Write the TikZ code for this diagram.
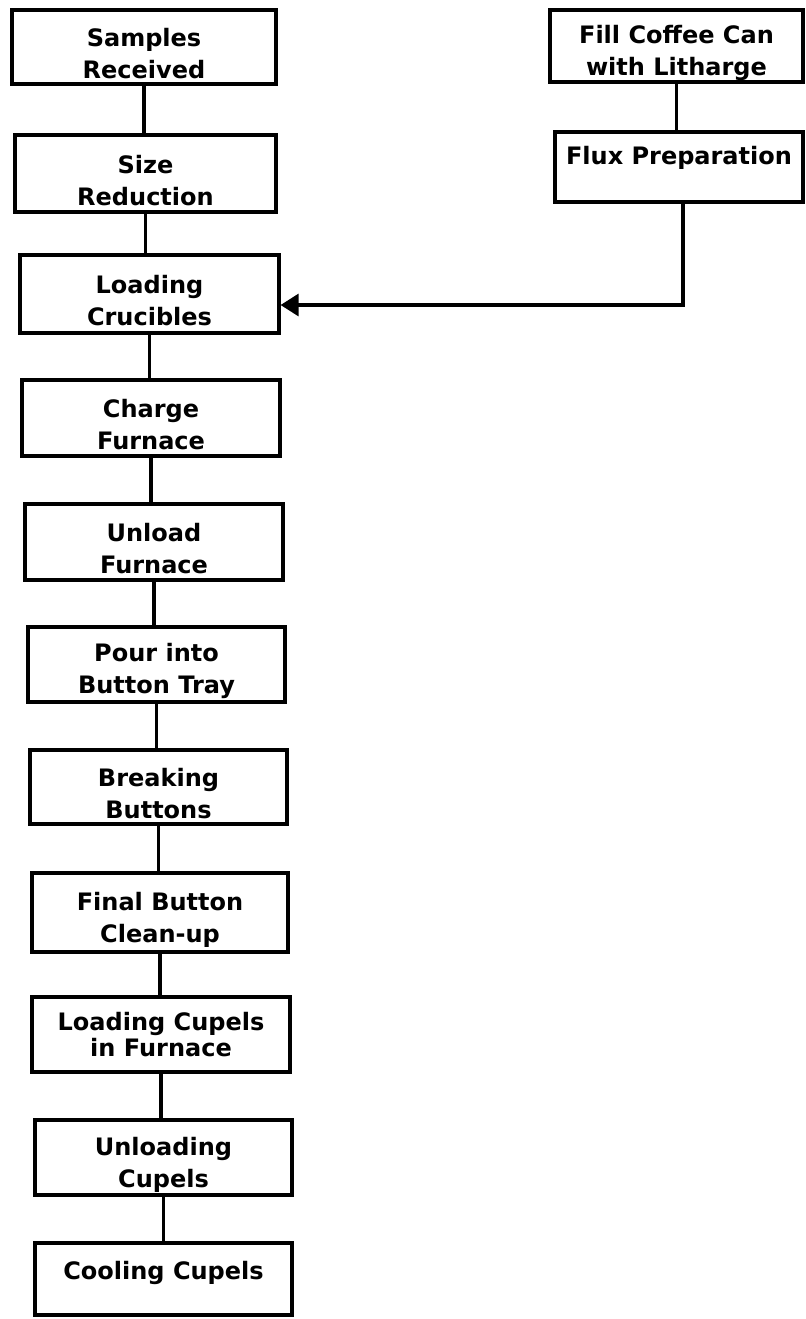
\documentclass[tikz,border=0pt]{standalone}
\usepackage{fontspec}
\setmainfont{DejaVu Sans}
\usetikzlibrary{arrows.meta}
\newcommand\boxgap{\rule{0pt}{16pt}}
\begin{document}
\begin{tikzpicture}[x=0.5pt,y=-0.5pt,
  box/.style={draw,line width=1.6pt,inner sep=0pt,align=center,font=\bfseries\fontsize{12}{16}\selectfont},
  link/.style={line width=1.6pt},
  flow/.style={line width=1.6pt,-{Triangle[length=9pt,width=11pt]}}]
  \useasboundingbox (0,0) rectangle (805,1319);
  \node[box,minimum width=132pt,minimum height=37pt] (samples) at (144,47) {\boxgap Samples\\Received};
  \node[box,minimum width=130.5pt,minimum height=38.5pt] (sizered) at (145.5,173.5) {\boxgap Size\\Reduction};
  \node[box,minimum width=129.5pt,minimum height=39pt] (crucibles) at (149.5,294) {\boxgap Loading\\Crucibles};
  \node[box,minimum width=129pt,minimum height=38pt] (charge) at (151,418) {\boxgap Charge\\Furnace};
  \node[box,minimum width=129pt,minimum height=38pt] (unload) at (154,542) {\boxgap Unload\\Furnace};
  \node[box,minimum width=128.5pt,minimum height=37.5pt] (pour) at (156.5,664.5) {\boxgap Pour into\\Button Tray};
  \node[box,minimum width=128.5pt,minimum height=37pt] (breaking) at (158.5,787) {\boxgap Breaking\\Buttons};
  \node[box,minimum width=128pt,minimum height=39.5pt] (cleanup) at (160,912.5) {\boxgap Final Button\\Clean-up};
  \node[box,minimum width=129pt,minimum height=37.5pt,font=\bfseries\fontsize{12}{11.5}\selectfont] (loadcupels) at (161,1034.5) {Loading Cupels\\in Furnace};
  \node[box,minimum width=128.5pt,minimum height=37.5pt] (unloadcupels) at (163.5,1157.5) {\boxgap Unloading\\Cupels};
  \node[box,minimum width=128.5pt,minimum height=36pt,text depth=9pt] (cooling) at (163.5,1279) {Cooling Cupels};
  \node[box,minimum width=126.5pt,minimum height=36pt] (coffee) at (676.5,46) {\boxgap Fill Coffee Can\\with Litharge};
  \node[box,minimum width=124pt,minimum height=35pt,text depth=12pt] (flux) at (679,167) {Flux Preparation};
  \draw[link] (samples.south) -- (samples.south |- sizered.north);
  \draw[link] (sizered.south) -- (sizered.south |- crucibles.north);
  \draw[link] (crucibles.south) -- (crucibles.south |- charge.north);
  \draw[link] (charge.south) -- (charge.south |- unload.north);
  \draw[link] (unload.south) -- (unload.south |- pour.north);
  \draw[link] (pour.south) -- (pour.south |- breaking.north);
  \draw[link] (breaking.south) -- (breaking.south |- cleanup.north);
  \draw[link] (cleanup.south) -- (cleanup.south |- loadcupels.north);
  \draw[link] (loadcupels.south) -- (loadcupels.south |- unloadcupels.north);
  \draw[link] (unloadcupels.south) -- (unloadcupels.south |- cooling.north);
  \draw[link] (coffee.south) -- (coffee.south |- flux.north);
  \coordinate (fluxturn) at (683,305);
  \draw[flow] (flux.south -| fluxturn) -- (fluxturn) -- (crucibles.east |- fluxturn);
\end{tikzpicture}
\end{document}
